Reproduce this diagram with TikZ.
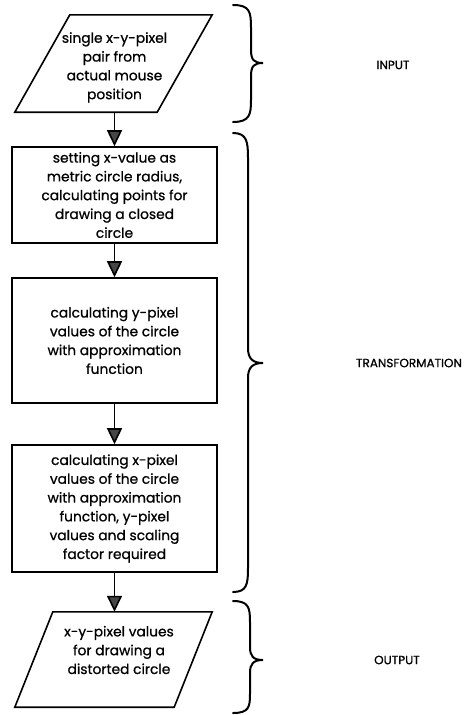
\documentclass[tikz,border=0pt]{standalone}
\usepackage{fontspec}
\setmainfont{Poppins}[FakeBold=0.8]
\usetikzlibrary{arrows.meta,calc}
\begin{document}
\begin{tikzpicture}[x=1pt,y=-1pt,
  txt/.style={font=\fontsize{13.8}{18.8}\selectfont, align=center, inner sep=0pt},
  box/.style={txt, draw, line width=1.6pt, minimum width=205pt},
  ioshape/.style={inner sep=0pt, minimum width=197pt},
  pline/.style={line width=1.6pt, line join=miter},
  conn/.style={line width=1.6pt, -{Triangle[width=15pt,length=16pt,fill=gray!55!black]}},
  brc/.style={line width=2pt, line cap=round},
  lbl/.style={font=\fontsize{12}{14}\selectfont, inner sep=0pt}]
\useasboundingbox (0,0) rectangle (465,715);
% input
\node[ioshape, minimum height=97pt] (in) at (113.5,63.5) {};
\draw[pline] ($(in.north west)+(55,0)$) -- (in.north east) -- ($(in.south east)+(-55,0)$) -- (in.south west) -- cycle;
\node[txt] (intxt) at (114.5,67.5) {single x-y-pixel\\pair from\\actual mouse\\position};
% boxes
\node[box, minimum height=96pt] (b1) at (114.5,195) {setting x-value as\\metric circle radius,\\calculating points for\\drawing a closed\\circle};
\node[box, minimum height=125pt] (b2) at (114.5,340.5) {calculating y-pixel\\values of the circle\\with approximation\\function};
\node[box, minimum height=127pt] (b3) at (114.5,508.5) {calculating x-pixel\\values of the circle\\with approximation\\function, y-pixel\\values and scaling\\factor required};
% output
\node[ioshape, minimum height=95pt] (out) at (113.5,659.5) {};
\draw[pline] ($(out.north west)+(38,0)$) -- (out.north east) -- ($(out.south east)+(-38,0)$) -- (out.south west) -- cycle;
\node[txt] (outtxt) at (119,650) {x-y-pixel values\\for drawing a\\distorted circle};
% connectors
\draw[conn] (in.south -| b1.north) -- (b1.north);
\draw[conn] (b1.south) -- (b2.north);
\draw[conn] (b2.south) -- (b3.north);
\draw[conn] (b3.south) -- (out.north -| b3.south);
% braces
\draw[brc] (233,5) .. controls (250,5) and (251,12) .. (251,28) -- (251,50) .. controls (251,60) and (254,63) .. (263,63) .. controls (254,63) and (251,66) .. (251,76) -- (251,100) .. controls (251,114) and (250,122) .. (233,122);
\draw[brc] (233,133) .. controls (247,133) and (248,142) .. (248,158) -- (248,348) .. controls (248,358) and (252,363) .. (263,363) .. controls (252,363) and (248,368) .. (248,378) -- (248,568) .. controls (248,584) and (247,592) .. (233,592);
\draw[brc] (233,601) .. controls (249,601) and (250,608) .. (250,622) -- (250,647) .. controls (250,656) and (253,660) .. (263,660) .. controls (253,660) and (250,664) .. (250,673) -- (250,694) .. controls (250,707) and (249,713) .. (233,713);
% labels
\node[lbl] (lin) at (393,65) {INPUT};
\node[lbl] (ltr) at (409,363) {TRANSFORMATION};
\node[lbl] (lout) at (397,660) {OUTPUT};
\end{tikzpicture}
\end{document}
